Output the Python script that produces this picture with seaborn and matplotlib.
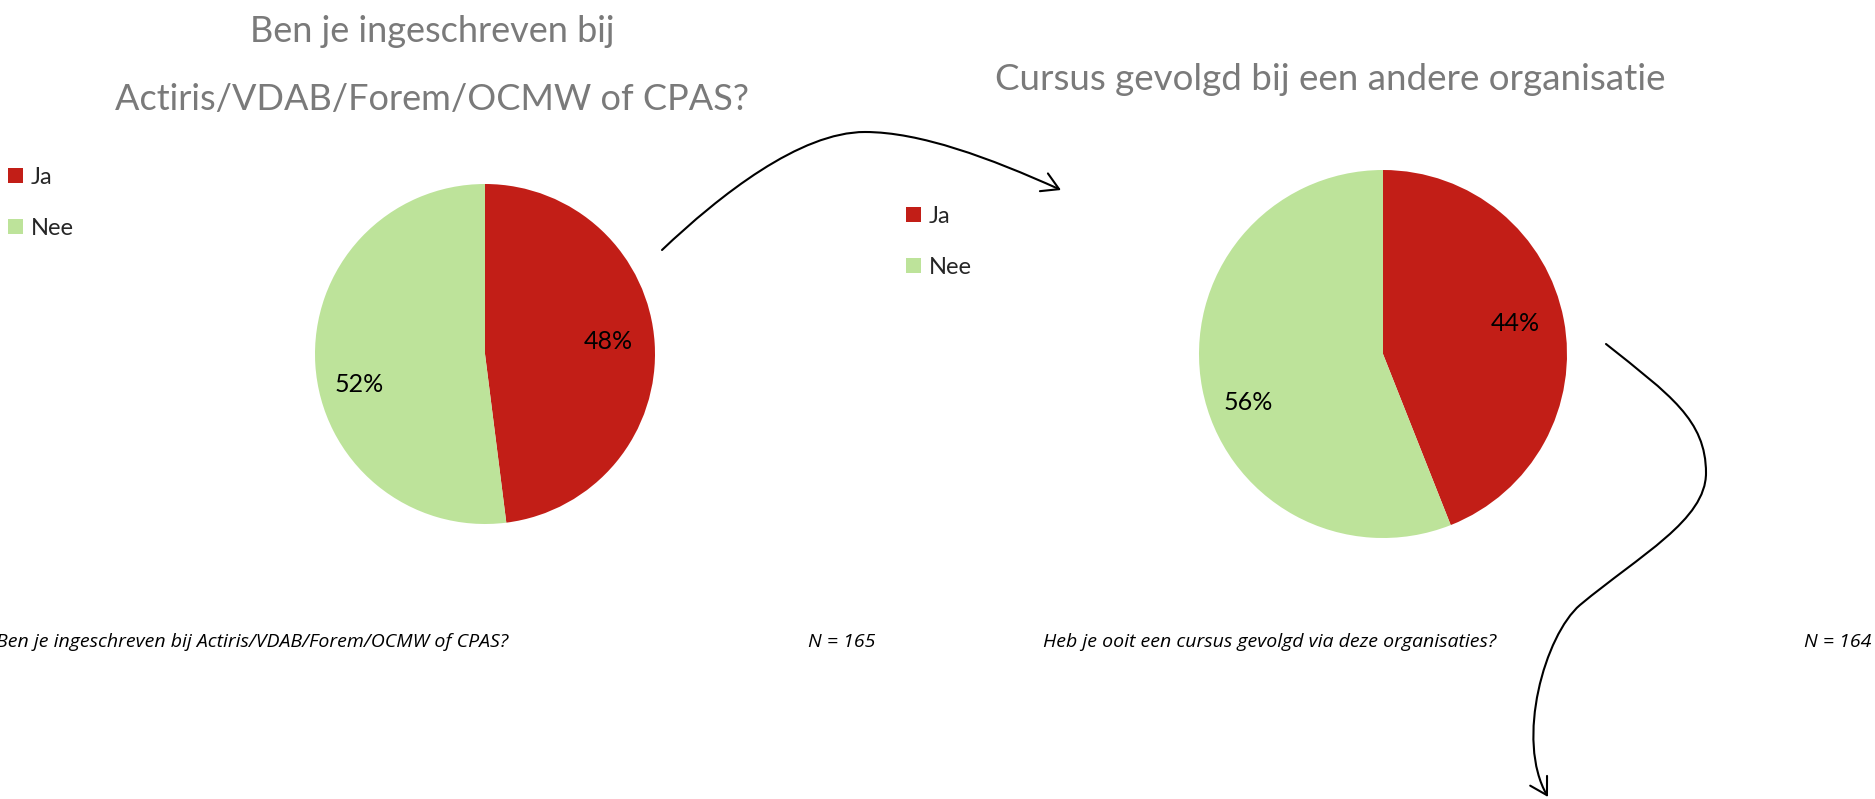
import numpy as np
import matplotlib
matplotlib.use("Agg")
import matplotlib.pyplot as plt
import seaborn as sns
from matplotlib.path import Path
from matplotlib.patches import FancyArrowPatch, Patch

# data
categories = ["Ja", "Nee"]
ingeschreven_pct = [48, 52]
cursus_pct = [44, 56]
titles = ["Ben je ingeschreven bij\nActiris/VDAB/Forem/OCMW of CPAS?",
          "Cursus gevolgd bij een andere organisatie"]
questions = ["Ben je ingeschreven bij Actiris/VDAB/Forem/OCMW of CPAS?",
             "Heb je ooit een cursus gevolgd via deze organisaties?"]
n_labels = ["N = 165", "N = 164"]

sns.set_theme(style="white")
plt.rcParams["font.family"] = ["Lato", "DejaVu Sans"]
colors = sns.color_palette(["#C21E17", "#BDE39A"])

W, H = 1875, 799
fig = plt.figure(figsize=(W / 100, H / 100), dpi=100)


def fx(x):
    return x / W


def fy(y):
    return 1 - y / H


def pie_panel(values, cx, cy, r, label_r, label_shift):
    ax = fig.add_axes([fx(cx - r), fy(cy + r), 2 * r / W, 2 * r / H])
    wedges, _ = ax.pie(values, colors=colors, startangle=90, counterclock=False,
                       wedgeprops=dict(linewidth=0))
    ax.set_xlim(-1, 1)
    ax.set_ylim(-1, 1)
    for w, v, lr, sh in zip(wedges, values, label_r, label_shift):
        ang = np.deg2rad((w.theta1 + w.theta2) / 2 + sh)
        ax.text(lr * np.cos(ang), lr * np.sin(ang), f"{v}%", ha="center", va="center",
                fontsize=18, color="black")
    return ax


pie_panel(ingeschreven_pct, 485, 354, 170, [0.73, 0.76], [2, 10])
pie_panel(cursus_pct, 1383, 354, 184, [0.74, 0.78], [2, 9])

# titles
title_color = "#7a7a7a"
line1, line2 = titles[0].split("\n")
fig.text(fx(432), fy(32), line1, ha="center", va="center",
         fontsize=26, color=title_color)
fig.text(fx(432), fy(99), line2, ha="center", va="center",
         fontsize=26, color=title_color)
fig.text(fx(1330), fy(80), titles[1], ha="center", va="center",
         fontsize=26.5, color=title_color)

# legends
handles = [Patch(facecolor=c, edgecolor="none") for c in colors]
for lx, ly in [(8, 167), (906, 206)]:
    fig.legend(handles, categories, loc="upper left",
               bbox_to_anchor=(fx(lx), fy(ly)), frameon=False,
               handlelength=0.62, handleheight=0.62, handletextpad=0.35,
               labelspacing=1.25, fontsize=17, labelcolor="#262626",
               borderpad=0, borderaxespad=0)

# footnotes
foot = dict(va="center", fontsize=14, style="italic", color="black",
            family=["Open Sans", "DejaVu Sans"])
fig.text(fx(-4), fy(642), questions[0], ha="left", **foot)
fig.text(fx(875), fy(642), n_labels[0], ha="right", **foot)
fig.text(fx(1043), fy(642), questions[1], ha="left", **foot)
fig.text(fx(1871), fy(642), n_labels[1], ha="right", **foot)


# connecting arrows (pixel coords, y down)
def arrow(points):
    verts = [(fx(x), fy(y)) for x, y in points]
    codes = [Path.MOVETO] + [Path.CURVE4] * (len(points) - 1)
    a = FancyArrowPatch(path=Path(verts, codes), transform=fig.transFigure,
                        arrowstyle="->,head_length=0.6,head_width=0.35",
                        mutation_scale=20, lw=1.5, color="black")
    fig.add_artist(a)


arrow([(662, 250), (720, 195), (800, 132), (865, 132),
       (920, 132), (990, 158), (1061, 190)])
arrow([(1606, 344), (1670, 395), (1706, 420), (1706, 473),
       (1706, 520), (1640, 555), (1580, 605),
       (1545, 635), (1515, 740), (1548, 797)])

fig.savefig("out.png", dpi=100)
